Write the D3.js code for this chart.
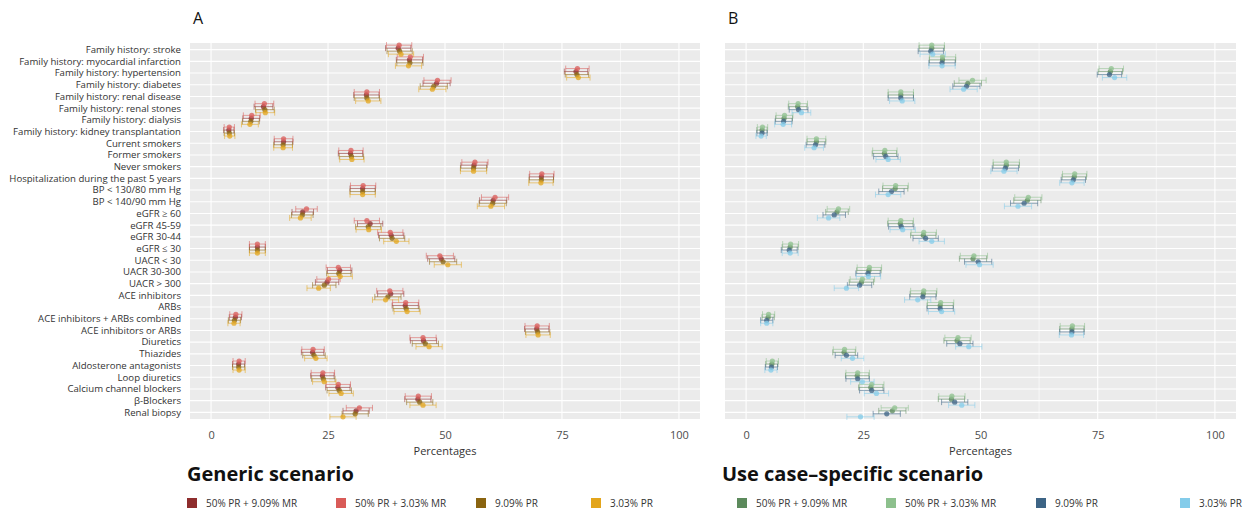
<!DOCTYPE html>
<meta charset="utf-8">
<style>
body { margin: 0; background: #fff; }
text { font-family: "Open Sans", sans-serif; }
.grid line { stroke: #fff; }
</style>
<svg width="1244" height="509"></svg>
<script src="https://cdn.jsdelivr.net/npm/d3@7/dist/d3.min.js"></script>
<script>

var categories = [
  "Family history: stroke", "Family history: myocardial infarction", "Family history: hypertension",
  "Family history: diabetes", "Family history: renal disease", "Family history: renal stones",
  "Family history: dialysis", "Family history: kidney transplantation", "Current smokers",
  "Former smokers", "Never smokers", "Hospitalization during the past 5 years",
  "BP < 130/80 mm Hg", "BP < 140/90 mm Hg", "eGFR \u2265 60", "eGFR 45-59", "eGFR 30-44",
  "eGFR \u2264 30", "UACR < 30", "UACR 30-300", "UACR > 300", "ACE inhibitors", "ARBs",
  "ACE inhibitors + ARBs combined", "ACE inhibitors or ARBs", "Diuretics", "Thiazides",
  "Aldosterone antagonists", "Loop diuretics", "Calcium channel blockers", "\u03b2-Blockers",
  "Renal biopsy"
];

var seriesNames = ["50% PR + 9.09% MR", "50% PR + 3.03% MR", "9.09% PR", "3.03% PR"];
var xTicks = [0, 25, 50, 75, 100];

// Generic scenario (A)
var genericPR50MR909 = [40.0, 42.4, 78.0, 48.2, 33.2, 11.2, 8.6, 3.8, 15.5, 29.8, 56.2, 70.6, 32.4, 60.3, 19.6, 34.0,
  38.5, 9.9, 49.2, 27.5, 24.8, 38.4, 41.5, 5.2, 69.6, 45.4, 21.7, 5.9, 23.8, 27.1, 44.2, 31.0];
var genericPR50MR303 = [40.2, 42.6, 78.3, 48.4, 33.3, 11.4, 8.7, 3.9, 15.5, 29.9, 56.4, 70.7, 32.5, 60.7, 20.4, 33.3,
  38.3, 9.9, 48.9, 27.2, 25.1, 38.2, 41.6, 5.3, 69.7, 45.3, 21.8, 6.0, 23.9, 27.2, 44.3, 31.7];
var genericPR909 = [40.3, 42.5, 78.2, 47.6, 33.3, 11.5, 8.5, 3.9, 15.4, 30.0, 56.1, 70.6, 32.4, 60.2, 19.5, 33.6,
  38.7, 9.9, 49.6, 27.3, 24.2, 37.8, 41.7, 5.0, 69.8, 45.8, 22.0, 5.9, 24.0, 27.4, 44.6, 30.8];
var genericPR303 = [40.6, 42.2, 78.5, 47.3, 33.6, 11.6, 8.3, 4.0, 15.4, 30.1, 56.1, 70.5, 32.4, 59.8, 19.1, 33.7,
  39.6, 9.9, 50.6, 27.6, 23.0, 37.3, 41.9, 4.9, 69.9, 46.6, 22.4, 6.0, 24.2, 27.8, 45.3, 28.2];
var genericHalfCI = [2.7, 2.8, 2.5, 2.9, 2.7, 2.0, 1.8, 1.1, 2.0, 2.6, 2.8, 2.6, 2.7, 2.9, 2.3, 2.7,
  2.7, 1.7, 2.9, 2.6, 2.5, 2.8, 2.8, 1.3, 2.6, 2.8, 2.4, 1.3, 2.5, 2.6, 2.8, 2.8];

// Use case-specific scenario (B)
var specificPR50MR909 = [39.6, 41.9, 77.7, 47.3, 33.0, 11.0, 8.1, 3.4, 15.0, 29.5, 55.5, 70.0, 31.8, 60.0, 19.4, 32.9,
  37.8, 9.4, 48.4, 26.2, 24.6, 37.8, 41.4, 4.7, 69.5, 45.0, 20.9, 5.5, 23.7, 26.6, 43.8, 31.2];
var specificPR50MR303 = [39.6, 41.9, 77.9, 48.3, 33.0, 11.1, 8.2, 3.5, 15.0, 29.6, 55.5, 70.1, 31.9, 60.2, 19.7, 33.0,
  37.9, 9.5, 48.6, 26.3, 24.8, 37.9, 41.5, 4.8, 69.6, 45.2, 21.0, 5.6, 23.8, 26.8, 43.9, 31.7];
var specificPR909 = [39.4, 41.8, 77.5, 47.0, 33.0, 11.2, 8.0, 3.4, 14.8, 29.8, 55.3, 69.8, 31.0, 59.3, 18.8, 33.1,
  38.3, 9.2, 49.5, 26.0, 24.2, 37.7, 41.4, 4.4, 69.5, 45.6, 21.4, 5.4, 23.8, 26.8, 44.5, 30.0];
var specificPR303 = [39.8, 41.8, 78.6, 46.4, 33.3, 11.8, 7.9, 3.2, 14.5, 30.3, 55.0, 69.5, 30.3, 58.0, 17.6, 33.4,
  39.6, 9.4, 49.8, 26.1, 21.4, 36.6, 41.7, 4.4, 69.4, 47.5, 22.7, 5.3, 24.8, 27.8, 46.0, 24.4];
var specificHalfCI = [2.7, 2.8, 2.6, 2.9, 2.7, 2.0, 1.8, 1.1, 2.0, 2.6, 2.8, 2.6, 2.7, 2.9, 2.4, 2.7,
  2.7, 1.7, 2.9, 2.6, 2.6, 2.8, 2.8, 1.3, 2.6, 2.8, 2.4, 1.3, 2.5, 2.6, 2.8, 2.9];


var svg = d3.select("svg");
var panelTop = 43, panelBottom = 419;

var y = d3.scalePoint()
    .domain(categories)
    .range([panelTop, panelBottom])
    .padding(0.57);

// visual stacking of the four series inside a row (top to bottom)
var dodge = d3.scaleOrdinal()
    .domain([1, 0, 2, 3])
    .range([-4.5, -1.5, 1.5, 4.5]);

// category labels (shared, left of panel A)
svg.append("g")
    .selectAll("text")
    .data(categories)
    .enter()
    .append("text")
    .attr("x", 181)
    .attr("y", function(d) { return y(d); })
    .attr("dy", "0.35em")
    .attr("text-anchor", "end")
    .attr("font-size", "9.6px")
    .attr("fill", "#333")
    .text(function(d) { return d; });


function drawPanel(opts) {
  var x = d3.scaleLinear()
      .domain([-4.5, 104.5])
      .range([opts.x0, opts.x1]);

  var color = d3.scaleOrdinal()
      .domain(seriesNames)
      .range(opts.colors);

  var g = svg.append("g");

  g.append("rect")
      .attr("x", opts.x0)
      .attr("y", panelTop)
      .attr("width", opts.x1 - opts.x0)
      .attr("height", panelBottom - panelTop)
      .attr("fill", "#EBEBEB");

  var grid = g.append("g").attr("class", "grid");

  // minor gridlines
  grid.selectAll(".minor")
      .data([12.5, 37.5, 62.5, 87.5])
      .enter()
      .append("line")
      .attr("class", "minor")
      .attr("x1", function(d) { return x(d); })
      .attr("x2", function(d) { return x(d); })
      .attr("y1", panelTop)
      .attr("y2", panelBottom)
      .attr("stroke-width", 0.6);

  grid.selectAll(".major")
      .data(xTicks)
      .enter()
      .append("line")
      .attr("class", "major")
      .attr("x1", function(d) { return x(d); })
      .attr("x2", function(d) { return x(d); })
      .attr("y1", panelTop)
      .attr("y2", panelBottom)
      .attr("stroke-width", 1.1);

  grid.selectAll(".row")
      .data(categories)
      .enter()
      .append("line")
      .attr("class", "row")
      .attr("x1", opts.x0)
      .attr("x2", opts.x1)
      .attr("y1", function(d) { return y(d); })
      .attr("y2", function(d) { return y(d); })
      .attr("stroke-width", 1.1);

  // x axis
  var axis = g.append("g")
      .attr("transform", "translate(0," + panelBottom + ")")
      .call(d3.axisBottom(x).tickValues(xTicks).tickSize(0).tickPadding(12));
  axis.select(".domain").remove();
  axis.selectAll("text")
      .attr("font-size", "11px")
      .attr("fill", "#4D4D4D");

  g.append("text")
      .attr("x", (opts.x0 + opts.x1) / 2)
      .attr("y", 455)
      .attr("text-anchor", "middle")
      .attr("font-size", "11px")
      .attr("fill", "#333")
      .text("Percentages");

  g.append("text")
      .attr("x", opts.x0 + 3)
      .attr("y", 24)
      .attr("font-size", "16px")
      .attr("fill", "#111")
      .text(opts.letter);

  // points and error bars
  opts.series.forEach(function(vals, s) {
    var name = seriesNames[s];
    var rows = categories.map(function(c, i) {
      return { cat: c, v: vals[i], e: opts.halfCI[i] };
    });
    var sg = g.append("g")
        .attr("stroke", color(name))
        .attr("fill", color(name));

    var eb = sg.selectAll(".eb")
        .data(rows)
        .enter()
        .append("g")
        .attr("transform", function(d) { return "translate(0," + (y(d.cat) + dodge(s)) + ")"; })
        .attr("stroke-opacity", 0.55)
        .attr("stroke-width", 1);

    eb.append("line")
        .attr("x1", function(d) { return x(d.v - d.e); })
        .attr("x2", function(d) { return x(d.v + d.e); });
    eb.append("line")
        .attr("x1", function(d) { return x(d.v - d.e); })
        .attr("x2", function(d) { return x(d.v - d.e); })
        .attr("y1", -3).attr("y2", 3);
    eb.append("line")
        .attr("x1", function(d) { return x(d.v + d.e); })
        .attr("x2", function(d) { return x(d.v + d.e); })
        .attr("y1", -3).attr("y2", 3);

    sg.selectAll("circle")
        .data(rows)
        .enter()
        .append("circle")
        .attr("cx", function(d) { return x(d.v); })
        .attr("cy", function(d) { return y(d.cat) + dodge(s); })
        .attr("r", 2.6)
        .attr("stroke", "none")
        .attr("fill-opacity", 0.75);
  });

  // scenario title and legend
  g.append("text")
      .attr("x", opts.x0 - 3)
      .attr("y", 481)
      .attr("font-size", "20px")
      .attr("font-weight", "bold")
      .attr("fill", "#111")
      .text(opts.title);

  var lg = g.selectAll(".lg")
      .data(seriesNames)
      .enter()
      .append("g")
      .attr("transform", function(d, i) { return "translate(" + opts.legendX[i] + ",498)"; });
  lg.append("rect")
      .attr("width", 10)
      .attr("height", 10)
      .attr("fill", function(d) { return color(d); });
  lg.append("text")
      .attr("x", 19)
      .attr("y", 9)
      .attr("font-size", "10px")
      .attr("fill", "#333")
      .text(function(d) { return d; });
}

drawPanel({
  letter: "A",
  title: "Generic scenario",
  x0: 190, x1: 700,
  series: [genericPR50MR909, genericPR50MR303, genericPR909, genericPR303],
  halfCI: genericHalfCI,
  colors: ["#8E2D2D", "#D95B58", "#8A6410", "#E3A51C"],
  legendX: [187, 336, 476, 591]
});

drawPanel({
  letter: "B",
  title: "Use case\u2013specific scenario",
  x0: 725, x1: 1236,
  series: [specificPR50MR909, specificPR50MR303, specificPR909, specificPR303],
  halfCI: specificHalfCI,
  colors: ["#5C8A5C", "#8DC08D", "#3D6485", "#84CCEA"],
  legendX: [737, 886, 1036, 1180]
});

</script>
